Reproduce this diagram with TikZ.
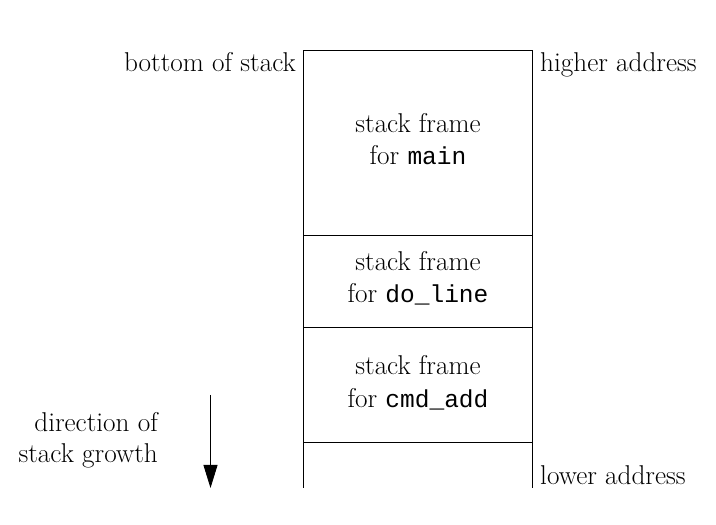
\documentclass[tikz,border=0pt]{standalone}
\usepackage{fontspec}
\setmonofont{Liberation Mono}
\usetikzlibrary{arrows.meta}
\begin{document}
\begin{tikzpicture}[x=1pt,y=1pt,
  lbl/.style={inner sep=0pt,font=\fontsize{27.2}{32}\selectfont},
  wall/.style={line width=0.9pt,black},
  growth/.style={line width=0.9pt,-{Triangle[length=23pt,width=14pt]}}]
\useasboundingbox (0,0) rectangle (716,525);
% stack outline
\coordinate (bl) at (303,37);
\coordinate (tl) at (303,475);
\coordinate (tr) at (532.5,475);
\coordinate (br) at (532.5,37);
\draw[wall] (bl) -- (tl) -- (tr) -- (br);
% frame separators
\coordinate (s1l) at (303,290);   \coordinate (s1r) at (532.5,290);
\coordinate (s2l) at (303,197.5); \coordinate (s2r) at (532.5,197.5);
\coordinate (s3l) at (303,82.5);  \coordinate (s3r) at (532.5,82.5);
\draw[wall] (s1l) -- (s1r);
\draw[wall] (s2l) -- (s2r);
\draw[wall] (s3l) -- (s3r);
% labels
\node[lbl,anchor=base east] (bottom) at (296,453) {bottom of stack};
\node[lbl,anchor=base west] (higher) at (540,453) {higher address};
\node[lbl,anchor=base west] (lower) at (540,40) {lower address};
\node[lbl,anchor=base] (mainA) at (418,392) {stack frame};
\node[lbl,anchor=base] (mainB) at (418,360) {for \texttt{\fontsize{24.5}{32}\selectfont main}};
\node[lbl,anchor=base] (doA) at (418,254) {stack frame};
\node[lbl,anchor=base] (doB) at (418,222) {for \texttt{\fontsize{24.5}{32}\selectfont do\_line}};
\node[lbl,anchor=base] (cmdA) at (418,150) {stack frame};
\node[lbl,anchor=base] (cmdB) at (418,117) {for \texttt{\fontsize{24.5}{32}\selectfont cmd\_add}};
\node[lbl,anchor=base east] (dirA) at (158,93) {direction of};
\node[lbl,anchor=base east] (dirB) at (158,62) {stack growth};
% growth arrow
\coordinate (gtop) at (210.5,130);
\coordinate (gbot) at (210.5,37);
\draw[growth] (gtop) -- (gbot);
\end{tikzpicture}
\end{document}
